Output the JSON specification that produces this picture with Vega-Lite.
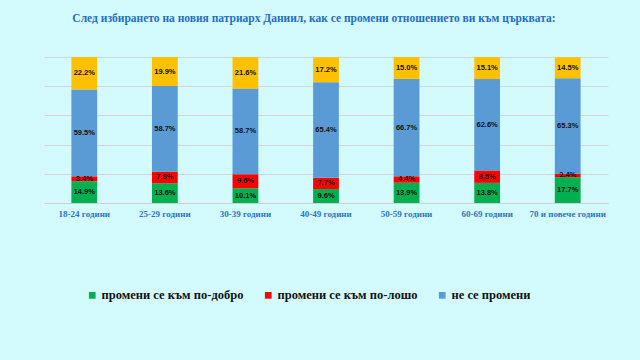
{
  "$schema": "https://vega.github.io/schema/vega-lite/v6.json",
  "autosize": {"type": "none"},
  "width": 564,
  "height": 146,
  "padding": {"left": 44, "top": 57, "right": 32, "bottom": 157},
  "background": "#D3FAFD",
  "title": {
    "text": "След избирането на новия патриарх Даниил, как се промени отношението ви към църквата:",
    "font": "Liberation Serif",
    "fontSize": 11.5,
    "fontWeight": "bold",
    "color": "#1F6FBF",
    "anchor": "middle",
    "frame": "group",
    "offset": 33,
    "dx": -12
  },
  "config": {
    "view": {"stroke": null}
  },
  "data": {
    "values": [
      {"age": "18-24 години", "cat": "промени се към по-добро", "k": 1, "value": 0.149},
      {"age": "18-24 години", "cat": "промени се към по-лошо", "k": 2, "value": 0.034},
      {"age": "18-24 години", "cat": "не се промени", "k": 3, "value": 0.595},
      {"age": "18-24 години", "cat": "не знам", "k": 4, "value": 0.222},
      {"age": "25-29 години", "cat": "промени се към по-добро", "k": 1, "value": 0.136},
      {"age": "25-29 години", "cat": "промени се към по-лошо", "k": 2, "value": 0.078},
      {"age": "25-29 години", "cat": "не се промени", "k": 3, "value": 0.587},
      {"age": "25-29 години", "cat": "не знам", "k": 4, "value": 0.199},
      {"age": "30-39 години", "cat": "промени се към по-добро", "k": 1, "value": 0.101},
      {"age": "30-39 години", "cat": "промени се към по-лошо", "k": 2, "value": 0.096},
      {"age": "30-39 години", "cat": "не се промени", "k": 3, "value": 0.587},
      {"age": "30-39 години", "cat": "не знам", "k": 4, "value": 0.216},
      {"age": "40-49 години", "cat": "промени се към по-добро", "k": 1, "value": 0.096},
      {"age": "40-49 години", "cat": "промени се към по-лошо", "k": 2, "value": 0.077},
      {"age": "40-49 години", "cat": "не се промени", "k": 3, "value": 0.654},
      {"age": "40-49 години", "cat": "не знам", "k": 4, "value": 0.172},
      {"age": "50-59 години", "cat": "промени се към по-добро", "k": 1, "value": 0.139},
      {"age": "50-59 години", "cat": "промени се към по-лошо", "k": 2, "value": 0.044},
      {"age": "50-59 години", "cat": "не се промени", "k": 3, "value": 0.667},
      {"age": "50-59 години", "cat": "не знам", "k": 4, "value": 0.150},
      {"age": "60-69 години", "cat": "промени се към по-добро", "k": 1, "value": 0.138},
      {"age": "60-69 години", "cat": "промени се към по-лошо", "k": 2, "value": 0.085},
      {"age": "60-69 години", "cat": "не се промени", "k": 3, "value": 0.626},
      {"age": "60-69 години", "cat": "не знам", "k": 4, "value": 0.151},
      {"age": "70 и повече години", "cat": "промени се към по-добро", "k": 1, "value": 0.177},
      {"age": "70 и повече години", "cat": "промени се към по-лошо", "k": 2, "value": 0.024},
      {"age": "70 и повече години", "cat": "не се промени", "k": 3, "value": 0.653},
      {"age": "70 и повече години", "cat": "не знам", "k": 4, "value": 0.145}
    ]
  },
  "encoding": {
    "x": {
      "field": "age",
      "type": "nominal",
      "sort": null,
      "title": null,
      "scale": {"paddingInner": 0.68, "paddingOuter": 0.34},
      "axis": {
        "labelAngle": 0,
        "labelFont": "Liberation Serif",
        "labelFontSize": 9,
        "labelFontWeight": "bold",
        "labelColor": "#2E75C0",
        "labelPadding": 6,
        "ticks": false,
        "domain": true,
        "domainColor": "#D0D0D0",
        "grid": false
      }
    },
    "y": {
      "field": "value",
      "type": "quantitative",
      "stack": "zero",
      "title": null,
      "scale": {"domain": [0, 1], "nice": false},
      "axis": {
        "values": [0, 0.2, 0.4, 0.6, 0.8, 1],
        "labels": false,
        "ticks": false,
        "domain": false,
        "grid": true,
        "gridColor": "#D6D6D6",
        "gridWidth": 1
      }
    },
    "order": {"field": "k", "type": "quantitative", "sort": "ascending"}
  },
  "layer": [
    {
      "mark": {"type": "bar"},
      "encoding": {
        "color": {
          "field": "cat",
          "type": "nominal",
          "title": null,
          "scale": {
            "domain": ["промени се към по-добро", "промени се към по-лошо", "не се промени", "не знам"],
            "range": ["#00B050", "#FF0000", "#5B9BD5", "#FFC000"]
          },
          "legend": {
            "values": ["промени се към по-добро", "промени се към по-лошо", "не се промени"],
            "orient": "none",
            "direction": "horizontal",
            "legendX": 42,
            "legendY": 232,
            "symbolType": "square",
            "symbolSize": 45,
            "symbolStrokeWidth": 0,
            "labelFont": "Liberation Serif",
            "labelFontSize": 12.5,
            "labelFontWeight": "bold",
            "labelColor": "#111111",
            "labelOffset": 3,
            "columnPadding": 18,
            "labelLimit": 300
          }
        }
      }
    },
    {
      "mark": {"type": "text", "font": "Liberation Sans", "fontSize": 7.5, "fontWeight": "bold", "color": "#111111"},
      "encoding": {
        "y": {"field": "value", "type": "quantitative", "stack": "zero", "bandPosition": 0.5},
        "detail": {"field": "cat"},
        "text": {"field": "value", "type": "quantitative", "format": ".1%"}
      }
    }
  ]
}
